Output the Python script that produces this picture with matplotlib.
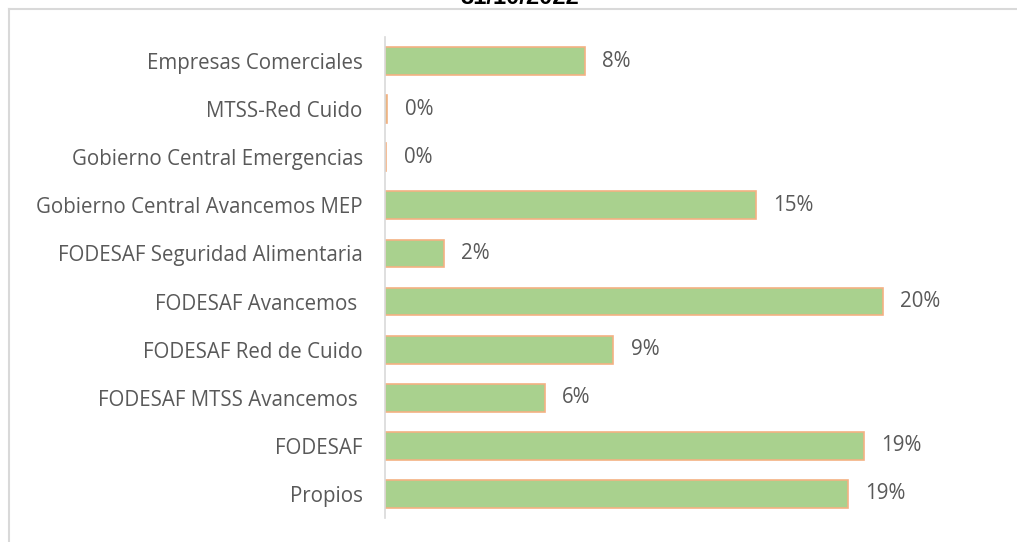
import matplotlib
matplotlib.use("Agg")
import matplotlib.pyplot as plt
from matplotlib.lines import Line2D
import numpy as np

categories = ["Empresas Comerciales", "MTSS-Red Cuido", "Gobierno Central Emergencias",
              "Gobierno Central Avancemos MEP", "FODESAF Seguridad Alimentaria",
              "FODESAF Avancemos ", "FODESAF Red de Cuido", "FODESAF MTSS Avancemos ",
              "FODESAF", "Propios"]
shares = [8.0, 0.1, 0.05, 14.85, 2.35, 19.95, 9.15, 6.4, 19.2, 18.55]
labels = ["8%", "0%", "0%", "15%", "2%", "20%", "9%", "6%", "19%", "19%"]
title = "31/10/2022"

plt.rcParams["font.family"] = ["Open Sans", "DejaVu Sans"]
fig = plt.figure(figsize=(10.17, 5.42), dpi=100)
ax = fig.add_axes([385 / 1017, 24 / 542, 625 / 1017, 481 / 542])

y = np.arange(len(categories))
ax.barh(y, shares, height=0.58, color="#A9D18E", edgecolor="#F4B183", linewidth=1.2)
for yi, v, lab in zip(y, shares, labels):
    ax.annotate(lab, (v, yi), xytext=(12.5, 0), textcoords="offset points",
                va="center", ha="left", fontsize=14.8, color="#595959")

ax.set_ylim(len(categories) - 0.5, -0.5)
ax.set_xlim(0, 625 / 24.95)
ax.set_yticks(y)
ax.set_yticklabels(categories, fontsize=14.8, color="#595959")
ax.tick_params(axis="y", length=0, pad=16)
ax.set_xticks([])
for s in ["top", "right", "bottom"]:
    ax.spines[s].set_visible(False)
ax.spines["left"].set_color("#d9d9d9")
ax.spines["left"].set_linewidth(1.2)

# chart frame (top and left edges visible)
fig.add_artist(Line2D([8.5 / 1017, 1], [1 - 8.5 / 542] * 2, color="#d9d9d9", lw=1.5))
fig.add_artist(Line2D([8.5 / 1017] * 2, [0, 1 - 8.5 / 542], color="#d9d9d9", lw=1.5))

fig.text(520 / 1017, 1 - 4 / 542, title, ha="center", va="baseline",
         fontsize=17, fontweight="bold", family="Liberation Sans", color="#000000")

fig.savefig("out.png", dpi=100)
